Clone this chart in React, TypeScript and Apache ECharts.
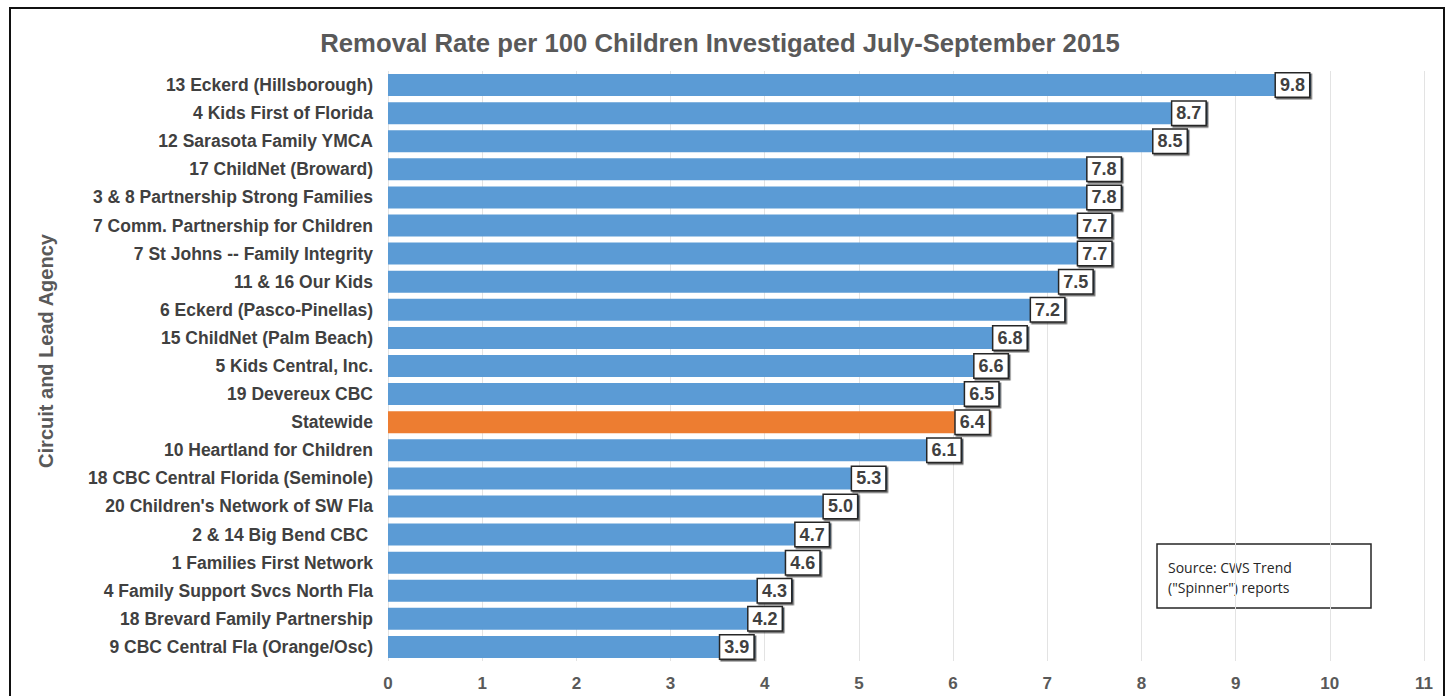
import React, { useEffect, useRef } from "react";
import * as echarts from "echarts";

const categories: string[] = [
  "13 Eckerd (Hillsborough)",
  "4 Kids First of Florida",
  "12 Sarasota Family YMCA",
  "17 ChildNet (Broward)",
  "3 & 8 Partnership Strong Families",
  "7 Comm. Partnership for Children",
  "7 St Johns -- Family Integrity",
  "11 & 16 Our Kids",
  "6 Eckerd (Pasco-Pinellas)",
  "15 ChildNet (Palm Beach)",
  "5 Kids Central, Inc.",
  "19 Devereux CBC",
  "Statewide",
  "10 Heartland for Children",
  "18 CBC Central Florida (Seminole)",
  "20 Children's Network of SW Fla",
  "2 & 14 Big Bend CBC ",
  "1 Families First Network",
  "4 Family Support Svcs North Fla",
  "18 Brevard Family Partnership",
  "9 CBC Central Fla (Orange/Osc)",
];

const values: number[] = [9.8, 8.7, 8.5, 7.8, 7.8, 7.7, 7.7, 7.5, 7.2, 6.8, 6.6, 6.5, 6.4, 6.1, 5.3, 5.0, 4.7, 4.6, 4.3, 4.2, 3.9];

const highlight = "Statewide";
const titleText = "Removal Rate per 100 Children Investigated July-September 2015";
const yAxisTitle = "Circuit and Lead Agency";
const sourceLines: string[] = ["Source: CWS Trend", "(\"Spinner\") reports"];

export default function App() {
  const ref = useRef<HTMLDivElement>(null);
  useEffect(() => {
    if (!ref.current) return;
    const chart = echarts.init(ref.current, undefined, { renderer: "svg" });
    const font = "'Liberation Sans', Arial, sans-serif";
    chart.setOption({
      animation: false,
      backgroundColor: "#ffffff",
      title: {
        text: titleText,
        left: 715,
        top: 25,
        textAlign: "center",
        textStyle: { fontFamily: font, fontSize: 25.7, fontWeight: "bold", color: "#595959" },
      },
      grid: { left: 388, right: 26, top: 71, bottom: 35, containLabel: false },
      xAxis: {
        type: "value",
        min: 0,
        max: 11,
        interval: 1,
        axisLine: { show: false },
        axisTick: { show: false },
        splitLine: { show: true, lineStyle: { color: "#e3e3e3", width: 1 } },
        axisLabel: { fontFamily: font, fontSize: 17, fontWeight: "bold", color: "#595959", margin: 14 },
      },
      yAxis: {
        type: "category",
        data: categories,
        inverse: true,
        axisLine: { show: false },
        axisTick: { show: false },
        axisLabel: { fontFamily: font, fontSize: 17.5, fontWeight: "bold", color: "#404040", margin: 15 },
      },
      series: [
        {
          type: "bar",
          barWidth: 22,
          data: values.map((v, i) => ({
            value: v,
            itemStyle: { color: categories[i] === highlight ? "#ed7d31" : "#5b9bd5" },
          })),
          label: {
            show: true,
            position: "insideRight",
            distance: 2,
            formatter: (p: any) => Number(p.value).toFixed(1),
            fontFamily: font,
            fontSize: 18,
            fontWeight: "bold",
            color: "#404040",
            backgroundColor: "#ffffff",
            borderColor: "#262626",
            borderWidth: 1.5,
            padding: [3, 4, 2, 4],
            shadowColor: "rgba(0,0,0,0.6)",
            shadowOffsetX: 1.5,
            shadowOffsetY: 1.5,
            shadowBlur: 0,
          },
        },
      ],
      graphic: [
        {
          type: "rect",
          shape: { x: 10, y: 8, width: 1434, height: 700 },
          style: { fill: "none", stroke: "#111111", lineWidth: 2 },
          silent: true,
        },
        {
          type: "text",
          x: 46,
          y: 351,
          rotation: Math.PI / 2,
          style: {
            text: yAxisTitle,
            fontFamily: font,
            fontSize: 20,
            fontWeight: "bold",
            fill: "#595959",
            align: "center",
            verticalAlign: "middle",
          },
        },
        {
          type: "rect",
          shape: { x: 1157, y: 544, width: 214, height: 64 },
          style: { fill: "#ffffff", stroke: "#262626", lineWidth: 1.5 },
        },
        {
          type: "text",
          x: 1168,
          y: 567,
          style: {
            text: sourceLines[0],
            fontFamily: "'Open Sans', 'Noto Sans', sans-serif",
            fontSize: 14,
            fill: "#262626",
            verticalAlign: "middle",
          },
        },
        {
          type: "text",
          x: 1168,
          y: 587,
          style: {
            text: sourceLines[1],
            fontFamily: "'Open Sans', 'Noto Sans', sans-serif",
            fontSize: 14,
            fill: "#262626",
            verticalAlign: "middle",
          },
        },
      ],
    });
    return () => chart.dispose();
  }, []);
  return (
    <div
      ref={ref}
      style={{ position: "fixed", left: 0, top: 0, width: 1450, height: 696 }}
    />
  );
}
